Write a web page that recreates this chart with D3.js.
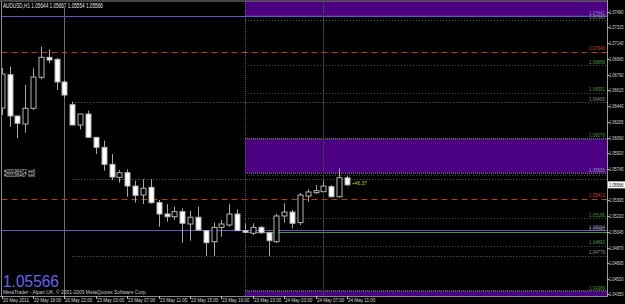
<!DOCTYPE html>
<html><head><meta charset="utf-8">
<script src="https://cdn.jsdelivr.net/npm/d3@7"></script>
<style>html,body{margin:0;padding:0;background:#000;overflow:hidden}</style>
</head><body>
<svg id="c" width="625" height="304"></svg>
<script>
// ---------- DATA ----------
const symbol = "AUDUSD,H1";
const headerValues = ["1.05644","1.05667","1.05554","1.05566"];
const currentPrice = 1.05566;
const profitText = "+46.37";
const copyright = "MetaTrader - Alpari UK, \u00a9 2001-2009 MetaQuotes Software Corp.";
const orderTags = ["#20196472 sell","#20196467 sell"];

const opens  = [1.06420,1.06790,1.06331,1.06242,1.06417,1.06761,1.06983,1.06961,1.06709,1.06457,1.06231,1.06353,1.06094,1.05983,1.05794,1.05650,1.05701,1.05553,1.05453,1.05539,1.05368,1.05242,1.05212,1.05268,1.05131,1.05206,1.05057,1.04934,1.05094,1.05120,1.05242,1.05057,1.05028,1.05094,1.05034,1.04934,1.05220,1.05264,1.05146,1.05442,1.05479,1.05490,1.05546,1.05434,1.05644];
const highs  = [1.06864,1.06879,1.06335,1.06676,1.06861,1.07101,1.07072,1.06975,1.06731,1.06490,1.06356,1.06390,1.06096,1.06057,1.05909,1.05731,1.05739,1.05612,1.05628,1.05628,1.05398,1.05353,1.05323,1.05306,1.05279,1.05323,1.05064,1.05146,1.05176,1.05353,1.05294,1.05139,1.05139,1.05110,1.05046,1.05242,1.05361,1.05287,1.05476,1.05517,1.05564,1.05612,1.05564,1.05750,1.05667];
const lows   = [1.06342,1.06212,1.06083,1.06146,1.06398,1.06739,1.06917,1.06620,1.06531,1.06228,1.06183,1.06092,1.05909,1.05723,1.05620,1.05590,1.05434,1.05368,1.05353,1.05359,1.05101,1.05157,1.05176,1.04923,1.04946,1.05060,1.04776,1.04776,1.04990,1.05101,1.05055,1.05031,1.05009,1.05021,1.04776,1.04920,1.05146,1.05083,1.05120,1.05379,1.05464,1.05487,1.05426,1.05426,1.05554];
const closes = [1.06798,1.06331,1.06250,1.06417,1.06764,1.06983,1.06953,1.06709,1.06564,1.06231,1.06353,1.06094,1.05983,1.05794,1.05653,1.05701,1.05553,1.05450,1.05528,1.05368,1.05242,1.05212,1.05268,1.05139,1.05206,1.05064,1.04923,1.05094,1.05131,1.05242,1.05057,1.05039,1.05094,1.05034,1.04946,1.05220,1.05264,1.05139,1.05453,1.05487,1.05501,1.05553,1.05434,1.05646,1.05566];

const timeLabels = ["20 May 2011","20 May 18:00","20 May 22:00","23 May 03:00","23 May 07:00","23 May 11:00","23 May 15:00","23 May 19:00","23 May 23:00","24 May 03:00","24 May 07:00","24 May 11:00"];
const timeLabelBars = [0,4,8,12,16,20,24,28,32,36,40,44];

const priceTicks = [1.07490,1.07315,1.07140,1.06965,1.06790,1.06615,1.06440,1.06265,1.06090,1.05920,1.05745,1.05395,1.05220,1.05045,1.04870,1.04695,1.04520,1.04350];

// horizontal objects
const levelPrices = [1.07441,1.07395,1.07046,1.06899,1.06591,1.06490,1.06079,1.05695,1.05680,1.05631,1.05413,1.05195,1.05064,1.05040,1.04892,1.04779,1.04389];
const levelLabels = ["1.07441","1.07395","1.07046","1.06899","1.06591","1.06490","1.06079","1.05695","","","1.05413","1.05195","1.05064","1.05040","1.04892","1.04779","1.04389"];
const levelKinds  = ["alert","levelGrey","pivot","level","level","order","level","boxEdge","level","order","pivot","level","alert","price","level","order","level"];

// zones (price ranges)
const zoneTops    = [1.0770, 1.06079, 1.04389];
const zoneBottoms = [1.07441, 1.05695, 1.0430];
const zoneStartBar = 31;

// vertical objects (bar indexes)
const vlineBars  = [8, 31, 41];
const vlineKinds = ["solid","dotted","dark"];

// ---------- DRAW ----------
(function(){
const W = 625, H = 304;
const pL = 1.5, pR = 607, pT = 1, pB = 296;
const svg = d3.select("#c");
const font = "'Liberation Sans', Arial, sans-serif";

// text squeezed horizontally to a target width (like the narrow terminal font)
function sText(parent, tx, ty, str, size, width, fill, anchor) {
  const g = parent.append("g");
  const t = g.append("text").attr("font-family", font).attr("font-size", size)
    .attr("fill", fill).text(str);
  const natural = t.node().getComputedTextLength() || width;
  const sx = width / natural;
  const x0 = anchor === "end" ? tx - width : tx;
  g.attr("transform", `translate(${x0},${ty}) scale(${sx},1)`);
  return g;
}

svg.append("rect").attr("width", W).attr("height", H).attr("fill", "#000");

const y = d3.scaleLinear().domain([1.0435, 1.0749]).range([294.3, 11.7]);
const x = d3.scaleLinear().domain([0, 44]).range([1.7, 347]);

svg.append("clipPath").attr("id","clip").append("rect")
  .attr("x", pL).attr("y", pT).attr("width", pR-pL).attr("height", pB-pT);
const plot = svg.append("g").attr("clip-path","url(#clip)");

// zones
zoneTops.forEach((t,i)=>{
  const y1 = y(t), y2 = y(zoneBottoms[i]);
  plot.append("rect").attr("x", x(zoneStartBar)).attr("y", y1)
    .attr("width", pR - x(zoneStartBar)).attr("height", y2 - y1)
    .attr("fill", "#4b0082");
  plot.append("line").attr("x1", x(zoneStartBar)).attr("x2", pR).attr("y1", y1).attr("y2", y1)
    .attr("stroke","#8a8a8a").attr("stroke-dasharray","1,1");
  plot.append("line").attr("x1", x(zoneStartBar)).attr("x2", pR).attr("y1", y2).attr("y2", y2)
    .attr("stroke","#8a8a8a").attr("stroke-dasharray","1,1");
});

// vertical lines
const vStyle = {
  solid: {stroke:"#6e6e6e", dash:null, y0:8},
  dotted:{stroke:"#5a5a5a", dash:"1,1", y0:pT},
  dark:  {stroke:"#3c3c3c", dash:null, y0:pT}
};
vlineBars.forEach((b,i)=>{
  const s = vStyle[vlineKinds[i]];
  plot.append("line").attr("x1", Math.round(x(b))+0.5).attr("x2", Math.round(x(b))+0.5)
    .attr("y1", s.y0).attr("y2", pB).attr("stroke", s.stroke)
    .attr("stroke-dasharray", s.dash);
});

// horizontal levels
const kindStyle = {
  alert:    {stroke:"#6a4fc8", dash:null, from:null, label:"#8f80d8"},
  levelGrey:{stroke:"#3f6f3f", dash:"1,2", from:31, label:"#8c8c8c"},
  pivot:    {stroke:"#b8400c", dash:"6,4", from:null, label:"#d04a18"},
  level:    {stroke:"#2f6a2f", dash:"1,2", from:31, label:"#4f9c3f"},
  order:    {stroke:"#6c6c6c", dash:"1,2", from:9, label:"#8c8c8c"},
  boxEdge:  {stroke:null, dash:null, from:31, label:"#9a90b8"},
  price:    {stroke:"#3c963c", dash:null, from:31, label:"#8a9a8a"}
};
levelPrices.forEach((p,i)=>{
  const s = kindStyle[levelKinds[i]];
  const yy = Math.round(y(p)) + 0.5;
  const x0 = s.from === null ? pL : x(s.from);
  if (s.stroke) {
    plot.append("line").attr("x1", x0).attr("x2", pR).attr("y1", yy).attr("y2", yy)
      .attr("stroke", s.stroke).attr("stroke-dasharray", s.dash);
  }
});

// candles
const n = opens.length;
const candles = plot.append("g");
for (let i = 0; i < n; i++) {
  const cx = Math.round(x(i)) + 0.5;
  candles.append("line").attr("x1", cx).attr("x2", cx)
    .attr("y1", y(highs[i])).attr("y2", y(lows[i])).attr("stroke", "#a8a8a8");
  const yt = y(Math.max(opens[i], closes[i])), yb = y(Math.min(opens[i], closes[i]));
  const bear = closes[i] < opens[i];
  candles.append("rect").attr("x", cx - 2.5).attr("y", yt)
    .attr("width", 5).attr("height", Math.max(yb - yt, 0.8))
    .attr("fill", bear ? "#ffffff" : "#000000")
    .attr("stroke", "#b4b4b4").attr("stroke-width", 1);
}

// level labels (right side inside chart)
levelPrices.forEach((p,i)=>{
  if (!levelLabels[i]) return;
  const s = kindStyle[levelKinds[i]];
  sText(svg, 605, y(p) - 1.2, levelLabels[i], 5.5, 16, s.label, "end");
});

// frame
svg.append("line").attr("x1",0).attr("x2",pR).attr("y1",1).attr("y2",1).attr("stroke","#8a8a8a");
svg.append("line").attr("x1",pL).attr("x2",pL).attr("y1",1).attr("y2",pB).attr("stroke","#8a8a8a");
svg.append("line").attr("x1",0).attr("x2",pR).attr("y1",pB+0.5).attr("y2",pB+0.5).attr("stroke","#8a8a8a");
svg.append("line").attr("x1",pR+0.5).attr("x2",pR+0.5).attr("y1",0).attr("y2",pB+1).attr("stroke","#9a9a9a");

// right price axis
priceTicks.forEach(p=>{
  const yy = y(p);
  svg.append("line").attr("x1", pR).attr("x2", pR+2.5).attr("y1", Math.round(yy)+0.5).attr("y2", Math.round(yy)+0.5).attr("stroke","#bdbdbd");
  sText(svg, 609, yy + 2, d3.format(".5f")(p), 6, 14.5, "#d8d8d8");
});
// current price tag
{
  const yy = y(currentPrice);
  svg.append("rect").attr("x", 608).attr("y", yy - 3.5).attr("width", 17).attr("height", 7).attr("fill","#ffffff");
  sText(svg, 609, yy + 2, d3.format(".5f")(currentPrice), 6, 14.5, "#000");
}

// time axis
timeLabels.forEach((t,i)=>{
  const xx = Math.round(x(timeLabelBars[i])) + 0.5;
  svg.append("line").attr("x1", xx).attr("x2", xx).attr("y1", pB).attr("y2", pB + 3).attr("stroke","#bdbdbd");
  sText(svg, xx + 0.5, 302, t, 6, i === 0 ? 26 : 27.5, "#d8d8d8");
});

// title
sText(svg, 3, 7.5, symbol + "  " + headerValues.join(" "), 6.5, 100, "#e6e6e6");

// order tags
orderTags.forEach((t,i)=>{
  sText(svg, 4, 172.5 + i*4.4, t, 4.6, 31, "#d0d0d0");
});

// profit
sText(svg, 352, y(currentPrice) + 0.5, profitText, 6, 15, "#d2d200");

// big price
sText(svg, 3, 286.5, d3.format(".5f")(currentPrice), 17, 56, "#6464f0");

// copyright
sText(svg, 3, 293.5, copyright, 5.5, 144, "#c8c8c8");
})();
</script>
</body></html>
